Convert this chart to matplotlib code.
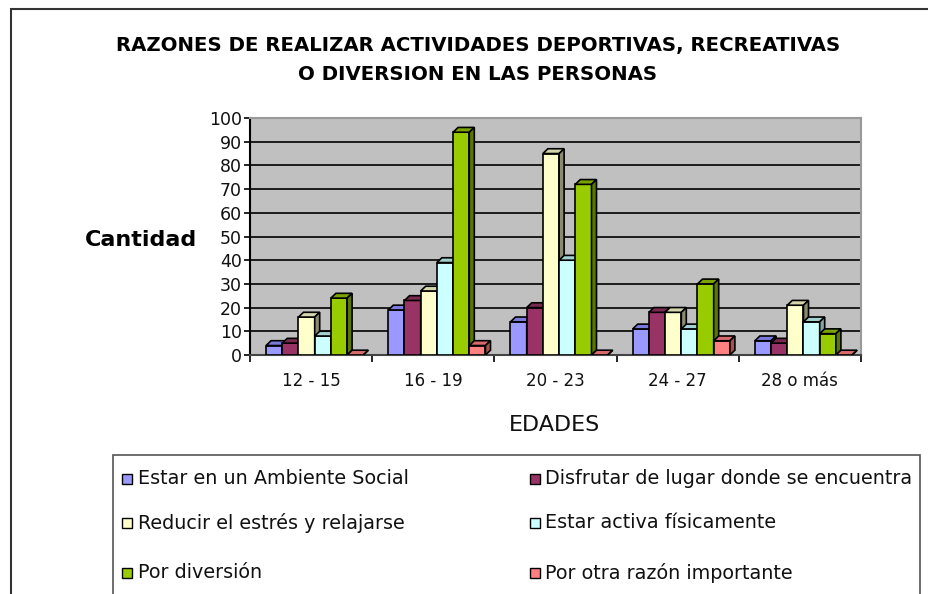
import matplotlib
matplotlib.use("Agg")
import matplotlib.pyplot as plt
from matplotlib.patches import Polygon, Rectangle
import numpy as np

categories = ["12 - 15", "16 - 19", "20 - 23", "24 - 27", "28 o más"]
series_names = ["Estar en un Ambiente Social", "Disfrutar de lugar donde se encuentra",
                "Reducir el estrés y relajarse", "Estar activa físicamente",
                "Por diversión", "Por otra razón importante"]
ambiente_social = [4, 19, 14, 11, 6]
disfrutar_lugar = [5, 23, 20, 18, 5]
reducir_estres = [16, 27, 85, 18, 21]
estar_activa = [8, 39, 40, 11, 14]
por_diversion = [24, 94, 72, 30, 9]
otra_razon = [0, 4, 0, 6, 0]
yticks = list(range(0, 101, 10))

series = [ambiente_social, disfrutar_lugar, reducir_estres, estar_activa, por_diversion, otra_razon]
front = ["#9999FF", "#993366", "#FFFFCC", "#CCFFFF", "#99CC00", "#FF8080"]
topc = ["#7A7ADD", "#7A2950", "#D6D6AC", "#A3D0D0", "#7AA300", "#D96A6A"]
side = ["#5F5FB0", "#5C1E3D", "#8A8A70", "#7FA5A5", "#5A7800", "#A85050"]

W, H = 929, 594
fig = plt.figure(figsize=(W / 100, H / 100), dpi=100)

def fx(px): return px / W
def fy(py): return 1 - py / H

# outer frame
fig.add_artist(Rectangle((fx(11), fy(700)), fx(1000), fy(9) - fy(700), fill=False,
                         ec="#333333", lw=1.5, transform=fig.transFigure))

ax = fig.add_axes([fx(250), fy(355), fx(861) - fx(250), fy(118) - fy(355)])
ax.set_facecolor("#C0C0C0")
ax.set_xlim(-0.5, 4.5)
ax.set_ylim(0, 100)
for v in yticks[1:]:
    ax.axhline(v, color="black", lw=1.2, zorder=1)

bw = 16.2 / 122.2
x0 = -45 / 122.2
ddx = 5 / 122.2
ddy = 4.8 / 2.37
z = 3
for c in range(len(categories)):
    for i, s in enumerate(series):
        v = s[c]
        xl = c + x0 + i * bw
        xr = xl + bw
        ax.add_patch(Rectangle((xl, 0), bw, v, fc=front[i], ec="black", lw=1.2, zorder=z))
        ax.add_patch(Polygon([(xl, v), (xr, v), (xr + ddx, v + ddy), (xl + ddx, v + ddy)],
                             closed=True, fc=topc[i], ec="black", lw=1.2, zorder=z))
        ax.add_patch(Polygon([(xr, 0), (xr + ddx, ddy), (xr + ddx, v + ddy), (xr, v)],
                             closed=True, fc=side[i], ec="black", lw=1.2, zorder=z))
        z += 1

ax.set_yticks(yticks)
ax.set_yticklabels([str(t) for t in yticks], fontsize=12.5, color="#111111")
ax.set_xticks(np.arange(-0.5, 5, 1))
ax.set_xticklabels([])
ax.set_xticks(np.arange(len(categories)), minor=True)
ax.set_xticklabels(categories, minor=True, fontsize=12, color="#111111")
ax.tick_params(axis="x", which="minor", length=0, pad=12)
ax.tick_params(axis="x", which="major", length=5, direction="out", width=1.2)
ax.tick_params(axis="y", length=4, direction="out", width=1.2, pad=2)
for sp in ["top", "right"]:
    ax.spines[sp].set_color("#999999")
    ax.spines[sp].set_linewidth(1.5)
ax.spines["left"].set_linewidth(1.5)
ax.spines["bottom"].set_linewidth(1.5)
ax.spines["bottom"].set_color("#444444")

fig.text(fx(478), fy(45), "RAZONES DE REALIZAR ACTIVIDADES DEPORTIVAS, RECREATIVAS",
         ha="center", va="center", fontsize=14.2, fontweight="bold")
fig.text(fx(478), fy(75), "O DIVERSION EN LAS PERSONAS",
         ha="center", va="center", fontsize=14.2, fontweight="bold")
fig.text(fx(141), fy(240), "Cantidad", ha="center", va="center", fontsize=16, fontweight="bold")
fig.text(fx(555), fy(425), "EDADES", ha="center", va="center", fontsize=16, color="#111111")

# legend box
fig.add_artist(Rectangle((fx(113), fy(700)), fx(920) - fx(113), fy(455) - fy(700), fill=False,
                         ec="#555555", lw=1.2, transform=fig.transFigure))
rows = [479, 523, 573]
cols = [(122, 138), (530, 545)]
for k, name in enumerate(series_names):
    r, cidx = divmod(k, 2)
    mx, tx = cols[cidx]
    py = rows[r]
    fig.add_artist(Rectangle((fx(mx), fy(py + 5)), fx(10), fy(py - 5) - fy(py + 5),
                             fc=front[k], ec="black", lw=1, transform=fig.transFigure))
    fig.text(fx(tx), fy(py), name, ha="left", va="center", fontsize=13.8, color="#111111")

fig.savefig("out.png", dpi=100)
